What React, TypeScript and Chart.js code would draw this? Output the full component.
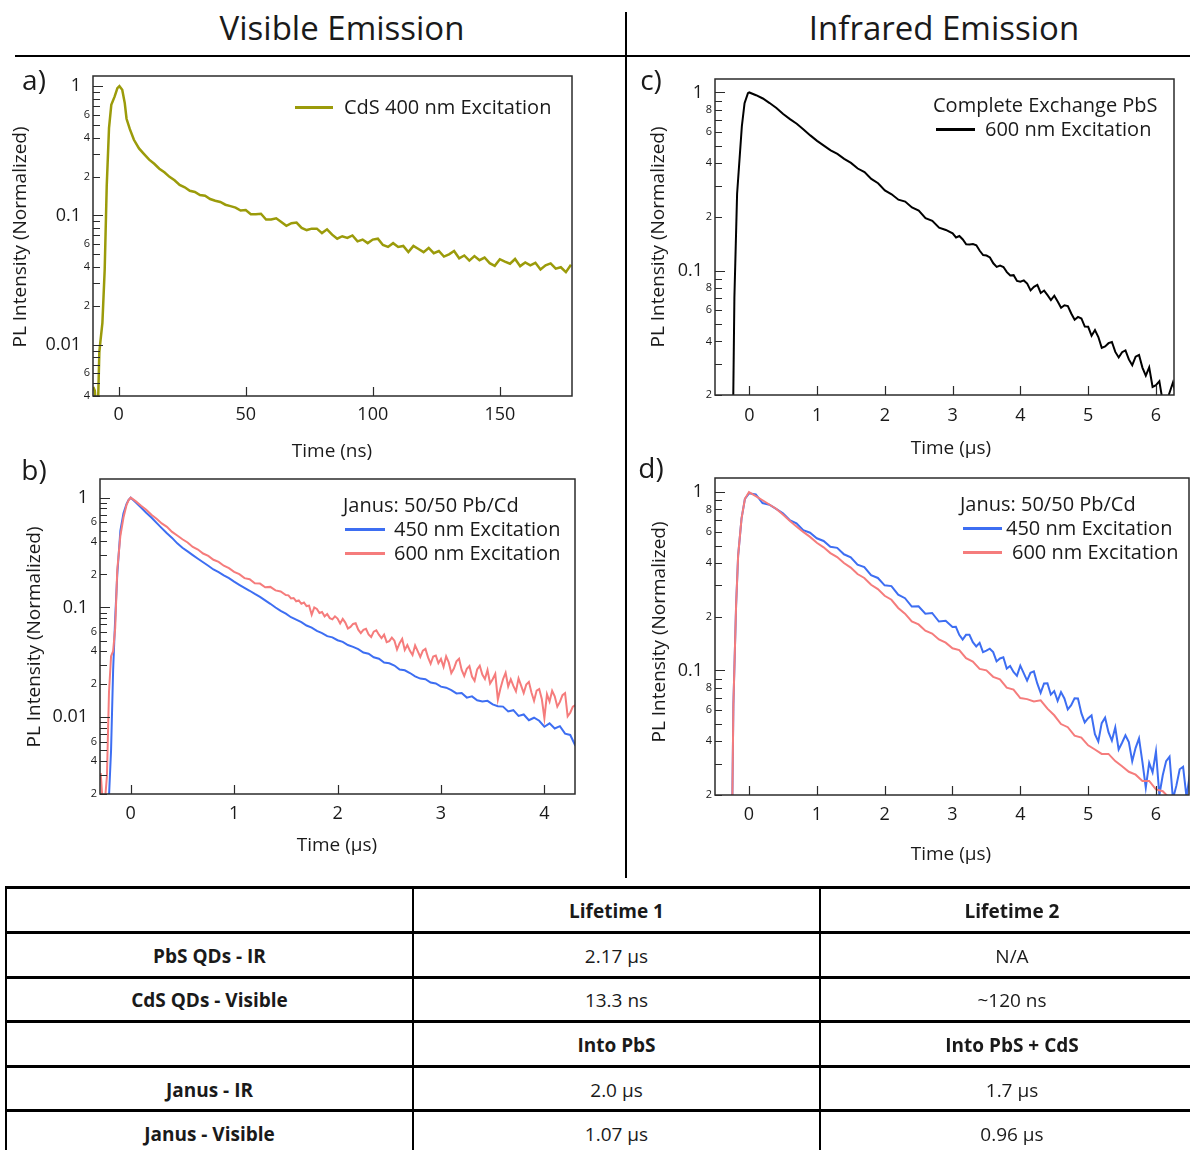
import React, { useEffect, useRef } from "react";
import { Chart, registerables } from "chart.js";

Chart.register(...registerables);

const FONT = "'Open Sans', 'DejaVu Sans', Arial, sans-serif";
const TABLE_FONT = "'Open Sans', 'Liberation Sans', Arial, sans-serif";
const INK = "#1a1a1a";

// ---------- Panel a: CdS visible emission (time in ns) ----------
const timeA = [
  -10, -9.4, -8.8, -8.2, -7.6, -7.2, -6.4, -5.5, -4.7, -3.8, -2.9, -1.6, -0.5, 0.3, 1.4, 2.4, 3.1, 4.4, 6,
  8, 10, 12, 14, 16, 18, 20, 22, 24, 26, 28, 30, 32, 34, 36, 38, 40, 42, 44, 46, 48, 50,
  52, 54, 56, 58, 60, 62, 64, 66, 68, 70, 72, 74, 76, 78, 80, 82, 84, 86, 88, 90,
  92, 94, 96, 98, 100, 102, 104, 106, 108, 110, 112, 114, 116, 118, 120, 122, 124, 126, 128, 130,
  132, 134, 136, 138, 140, 142, 144, 146, 148, 150, 152, 154, 156, 158, 160, 162, 164, 166, 168, 170,
  172, 174, 176, 178,
];
const cdsVisible = [
  0.0047, 0.0044, 0.0031, 0.003, 0.0088, 0.0105, 0.0147, 0.038, 0.168, 0.474, 0.718, 0.83, 0.965, 1.0, 0.94, 0.74, 0.56, 0.465, 0.385,
  0.33, 0.298, 0.27, 0.251, 0.23, 0.216, 0.199, 0.187, 0.172, 0.165, 0.155, 0.152, 0.144, 0.142, 0.134, 0.13, 0.127, 0.121, 0.118, 0.115, 0.109, 0.11,
  0.102, 0.102, 0.103, 0.093, 0.093, 0.095, 0.089, 0.083, 0.087, 0.088, 0.08, 0.077, 0.079, 0.079, 0.073, 0.078, 0.071, 0.066, 0.069, 0.067,
  0.07, 0.063, 0.065, 0.061, 0.065, 0.066, 0.059, 0.057, 0.061, 0.057, 0.058, 0.052, 0.058, 0.055, 0.052, 0.056, 0.051, 0.053, 0.048, 0.05,
  0.053, 0.0466, 0.049, 0.0447, 0.0484, 0.045, 0.0472, 0.0427, 0.0407, 0.0458, 0.0438, 0.0423, 0.046, 0.0405, 0.0433, 0.0411, 0.043, 0.0381, 0.0411, 0.0425,
  0.0387, 0.0397, 0.0364, 0.0415,
];
const xTicksA = [0, 50, 100, 150];
const xLabelsA = ["0", "50", "100", "150"];
const yTicksA = [
  0.004, 0.005, 0.006, 0.007, 0.008, 0.009,
  0.01, 0.02, 0.03, 0.04, 0.05, 0.06, 0.07, 0.08, 0.09,
  0.1, 0.2, 0.3, 0.4, 0.5, 0.6, 0.7, 0.8, 0.9, 1,
];
const yLabelsA = [
  "4", "", "6", "", "", "",
  "0.01", "2", "", "4", "", "6", "", "", "",
  "0.1", "2", "", "4", "", "6", "", "", "", "1",
];

// ---------- Panel b: Janus visible emission (time in µs) ----------
const timeB450 = [
  -0.29, -0.27, -0.25, -0.23, -0.21, -0.19, -0.17, -0.15, -0.13, -0.1, -0.07, -0.04, -0.02,
  0, 0.05, 0.1, 0.15, 0.2, 0.25, 0.3, 0.35, 0.4, 0.45, 0.5, 0.55, 0.6, 0.65, 0.7, 0.75, 0.8, 0.85, 0.9, 0.95,
  1, 1.05, 1.1, 1.15, 1.2, 1.25, 1.3, 1.35, 1.4, 1.45, 1.5, 1.55, 1.6, 1.65, 1.7, 1.75, 1.8, 1.85, 1.9, 1.95,
  2, 2.05, 2.1, 2.15, 2.2, 2.25, 2.3, 2.35, 2.4, 2.45, 2.5, 2.55, 2.6, 2.65, 2.7, 2.75, 2.8, 2.85, 2.9, 2.95,
  3, 3.05, 3.1, 3.15, 3.2, 3.25, 3.3, 3.35, 3.4, 3.45, 3.5, 3.55, 3.6, 3.65, 3.7, 3.75, 3.8, 3.85, 3.9, 3.95,
  4, 4.05, 4.1, 4.15, 4.2, 4.25, 4.3,
];
const janusVis450 = [
  0.0015, 0.0015, 0.0015, 0.0015, 0.0019, 0.005, 0.027, 0.08, 0.2, 0.5, 0.72, 0.88, 0.955,
  1.0, 0.905, 0.815, 0.73, 0.66, 0.59, 0.528, 0.474, 0.43, 0.384, 0.35, 0.324, 0.3, 0.278, 0.258, 0.24, 0.222, 0.21, 0.196, 0.185,
  0.172, 0.161, 0.151, 0.142, 0.133, 0.125, 0.116, 0.108, 0.1, 0.093, 0.088, 0.0815, 0.0775, 0.0735, 0.0685, 0.0655, 0.0612, 0.0585, 0.0548, 0.0534,
  0.0503, 0.0486, 0.0455, 0.0438, 0.0418, 0.0389, 0.0379, 0.0352, 0.0341, 0.0315, 0.031, 0.0296, 0.0272, 0.0268, 0.0253, 0.0236, 0.0225, 0.0222, 0.0207, 0.0203,
  0.019, 0.0186, 0.0177, 0.0165, 0.0166, 0.0151, 0.0155, 0.0143, 0.0139, 0.0141, 0.0131, 0.0126, 0.0125, 0.0113, 0.0116, 0.0103, 0.0106, 0.0094, 0.0099, 0.0093,
  0.0082, 0.0088, 0.0079, 0.0083, 0.0071, 0.0069, 0.0055,
];
const timeB600 = [
  -0.29, -0.27, -0.25, -0.23, -0.21, -0.19, -0.17, -0.15, -0.13, -0.1, -0.07, -0.04, -0.02,
  0, 0.05, 0.1, 0.15, 0.2, 0.25, 0.3, 0.35, 0.4, 0.45, 0.5, 0.55, 0.6, 0.65, 0.7, 0.75, 0.8, 0.85, 0.9, 0.95,
  1, 1.05, 1.1, 1.15, 1.2, 1.25, 1.3, 1.35, 1.4, 1.45,
  1.5, 1.525, 1.55, 1.575, 1.6, 1.625, 1.65, 1.675, 1.7, 1.725, 1.75, 1.775, 1.8, 1.825, 1.85, 1.875, 1.9, 1.925, 1.95, 1.975,
  2, 2.025, 2.05, 2.075, 2.1, 2.125, 2.15, 2.175, 2.2, 2.225, 2.25, 2.275, 2.3, 2.325, 2.35, 2.375, 2.4, 2.425, 2.45, 2.475,
  2.5, 2.525, 2.55, 2.575, 2.6, 2.625, 2.65, 2.675, 2.7, 2.725, 2.75, 2.775, 2.8, 2.825, 2.85, 2.875, 2.9, 2.925, 2.95, 2.975,
  3, 3.025, 3.05, 3.075, 3.1, 3.125, 3.15, 3.175, 3.2, 3.225, 3.25, 3.275, 3.3, 3.325, 3.35, 3.375, 3.4, 3.425, 3.45, 3.475,
  3.5, 3.525, 3.55, 3.575, 3.6, 3.625, 3.65, 3.675, 3.7, 3.725, 3.75, 3.775, 3.8, 3.825, 3.85, 3.875, 3.9, 3.925, 3.95, 3.975,
  4, 4.025, 4.05, 4.075, 4.1, 4.125, 4.15, 4.175, 4.2, 4.225, 4.25, 4.275, 4.3,
];
const janusVis600 = [
  0.0031, 0.0016, 0.0017, 0.0029, 0.017, 0.036, 0.04, 0.065, 0.22, 0.45, 0.66, 0.86, 0.95,
  1.0, 0.925, 0.845, 0.776, 0.7, 0.643, 0.583, 0.542, 0.488, 0.452, 0.418, 0.391, 0.356, 0.337, 0.31, 0.295, 0.272, 0.26, 0.24, 0.228,
  0.211, 0.201, 0.185, 0.181, 0.166, 0.165, 0.153, 0.154, 0.143, 0.14,
  0.13, 0.129, 0.121, 0.122, 0.114, 0.116, 0.108, 0.111, 0.103, 0.104, 0.086, 0.1, 0.097, 0.089, 0.091, 0.083, 0.087, 0.08, 0.078, 0.083,
  0.0792, 0.0716, 0.0786, 0.0729, 0.0644, 0.0666, 0.0708, 0.0718, 0.0628, 0.0585, 0.0626, 0.0639, 0.0568, 0.0538, 0.0602, 0.0619, 0.0565, 0.0527, 0.0566, 0.0483,
  0.0493, 0.0532, 0.0498, 0.0414, 0.0473, 0.0517, 0.0411, 0.0455, 0.0403, 0.0369, 0.0452, 0.0401, 0.0354, 0.0404, 0.0419, 0.0351, 0.0307, 0.0358, 0.0365, 0.0311,
  0.034, 0.0288, 0.0359, 0.0316, 0.0253, 0.0278, 0.0323, 0.0341, 0.027, 0.0238, 0.0277, 0.0293, 0.0235, 0.0215, 0.0273, 0.0295, 0.0245, 0.0223, 0.0269, 0.0203,
  0.0222, 0.0248, 0.0145, 0.0183, 0.0222, 0.0254, 0.0191, 0.0222, 0.0193, 0.0172, 0.0226, 0.0194, 0.0166, 0.0199, 0.021, 0.0168, 0.0141, 0.0175, 0.0181, 0.0147,
  0.0098, 0.0162, 0.0139, 0.0174, 0.0155, 0.0125, 0.0138, 0.0159, 0.0166, 0.0102, 0.011, 0.0125, 0.0129,
];
const xTicksB = [0, 1, 2, 3, 4];
const xLabelsB = ["0", "1", "2", "3", "4"];
const yTicksB = [
  0.002, 0.003, 0.004, 0.005, 0.006, 0.007, 0.008, 0.009,
  0.01, 0.02, 0.03, 0.04, 0.05, 0.06, 0.07, 0.08, 0.09,
  0.1, 0.2, 0.3, 0.4, 0.5, 0.6, 0.7, 0.8, 0.9, 1,
];
const yLabelsB = [
  "2", "", "4", "", "6", "", "", "",
  "0.01", "2", "", "4", "", "6", "", "", "",
  "0.1", "2", "", "4", "", "6", "", "", "", "1",
];

// ---------- Panel c: complete exchange PbS, IR emission (µs) ----------
const timeC = [
  -0.26, -0.24, -0.22, -0.18, -0.11, -0.07, -0.02,
  0, 0.1, 0.2, 0.3, 0.4, 0.5, 0.6, 0.7, 0.8, 0.9, 1, 1.1, 1.2, 1.3, 1.4, 1.5, 1.6, 1.7, 1.8, 1.9,
  2, 2.1, 2.2, 2.3, 2.4, 2.5, 2.6, 2.7, 2.8, 2.9,
  3, 3.05, 3.1, 3.15, 3.2, 3.25, 3.3, 3.35, 3.4, 3.45, 3.5, 3.55, 3.6, 3.65, 3.7, 3.75, 3.8, 3.85, 3.9, 3.95,
  4, 4.05, 4.1, 4.15, 4.2, 4.25, 4.3, 4.35, 4.4, 4.45, 4.5, 4.55, 4.6, 4.65, 4.7, 4.75, 4.8, 4.85, 4.9, 4.95,
  5, 5.05, 5.1, 5.15, 5.2, 5.25, 5.3, 5.35, 5.4, 5.45, 5.5, 5.55, 5.6, 5.65, 5.7, 5.75, 5.8, 5.85, 5.9, 5.95,
  6, 6.05, 6.1, 6.15, 6.2, 6.25, 6.3,
];
const pbsIr600 = [
  0.008, 0.015, 0.07, 0.27, 0.645, 0.87, 0.99,
  1.0, 0.965, 0.925, 0.872, 0.818, 0.757, 0.708, 0.667, 0.62, 0.574, 0.535, 0.503, 0.473, 0.452, 0.424, 0.402, 0.374, 0.357, 0.327, 0.309,
  0.282, 0.268, 0.25, 0.244, 0.226, 0.217, 0.197, 0.19, 0.174, 0.169,
  0.1616, 0.1533, 0.1563, 0.1495, 0.1405, 0.1401, 0.1409, 0.1387, 0.1291, 0.1221, 0.1214, 0.1185, 0.1098, 0.1048, 0.1065, 0.1047, 0.098, 0.0937, 0.0942, 0.0874,
  0.0865, 0.088, 0.0844, 0.0774, 0.081, 0.0831, 0.0748, 0.0772, 0.0727, 0.0683, 0.0722, 0.0669, 0.0618, 0.0638, 0.0632, 0.0574, 0.0529, 0.0549, 0.0538, 0.0484,
  0.0483, 0.043, 0.0463, 0.0423, 0.0368, 0.0375, 0.0391, 0.0397, 0.0349, 0.0325, 0.0348, 0.0356, 0.0317, 0.0294, 0.0328, 0.0336, 0.0285, 0.0257, 0.0286, 0.0222,
  0.0227, 0.0239, 0.0183, 0.0181, 0.0206, 0.0235, 0.0196,
];
const xTicksC = [0, 1, 2, 3, 4, 5, 6];
const xLabelsC = ["0", "1", "2", "3", "4", "5", "6"];
const yTicksIR = [
  0.02, 0.03, 0.04, 0.05, 0.06, 0.07, 0.08, 0.09,
  0.1, 0.2, 0.3, 0.4, 0.5, 0.6, 0.7, 0.8, 0.9, 1,
];
const yLabelsIR = [
  "2", "", "4", "", "6", "", "8", "",
  "0.1", "2", "", "4", "", "6", "", "8", "", "1",
];

// ---------- Panel d: Janus IR emission (µs) ----------
const timeD450 = [
  -0.27, -0.25, -0.23, -0.19, -0.16, -0.11, -0.06,
  0, 0.1, 0.2, 0.3, 0.4, 0.5, 0.6, 0.7, 0.8, 0.9, 1, 1.1, 1.2, 1.3, 1.4, 1.5, 1.6, 1.7, 1.8, 1.9,
  2, 2.1, 2.2, 2.3, 2.4, 2.5, 2.6, 2.7, 2.8, 2.9,
  3, 3.05, 3.1, 3.15, 3.2, 3.25, 3.3, 3.35, 3.4, 3.45, 3.5, 3.55, 3.6, 3.65, 3.7, 3.75, 3.8, 3.85, 3.9, 3.95,
  4, 4.05, 4.1, 4.15, 4.2, 4.25, 4.3, 4.35, 4.4, 4.45, 4.5, 4.55, 4.6, 4.65, 4.7, 4.75, 4.8, 4.85, 4.9, 4.95,
  5, 5.05, 5.1, 5.15, 5.2, 5.25, 5.3, 5.35, 5.4, 5.45, 5.5, 5.55, 5.6, 5.65, 5.7, 5.75, 5.8, 5.85, 5.9, 5.95,
  6, 6.05, 6.1, 6.15, 6.2, 6.25, 6.3, 6.35, 6.4, 6.45, 6.5,
];
const janusIr450 = [
  0.008, 0.013, 0.064, 0.231, 0.44, 0.71, 0.917,
  0.985, 0.97, 0.868, 0.85, 0.806, 0.761, 0.697, 0.668, 0.611, 0.592, 0.551, 0.532, 0.494, 0.487, 0.448, 0.431, 0.392, 0.38, 0.342, 0.33,
  0.3, 0.297, 0.266, 0.254, 0.228, 0.229, 0.208, 0.21, 0.188, 0.19,
  0.1752, 0.1754, 0.1582, 0.1488, 0.1583, 0.1585, 0.144, 0.1362, 0.1428, 0.1267, 0.1291, 0.1323, 0.1266, 0.1123, 0.1166, 0.1185, 0.1024, 0.1059, 0.0979, 0.0932,
  0.1063, 0.0966, 0.0877, 0.0969, 0.0987, 0.0845, 0.0748, 0.0844, 0.0847, 0.0731, 0.0766, 0.0675, 0.0756, 0.0696, 0.0604, 0.0638, 0.0697, 0.0696, 0.0576, 0.0511,
  0.054, 0.0559, 0.0439, 0.0399, 0.0506, 0.0543, 0.045, 0.0404, 0.0478, 0.036, 0.0393, 0.0432, 0.0396, 0.0309, 0.0368, 0.0416, 0.0307, 0.022, 0.0303, 0.0268,
  0.0351, 0.02, 0.0258, 0.031, 0.0328, 0.019, 0.0225, 0.0279, 0.0288, 0.0195, 0.0261,
];
const timeD600 = [
  -0.27, -0.25, -0.23, -0.19, -0.16, -0.11, -0.06,
  0, 0.1, 0.2, 0.3, 0.4, 0.5, 0.6, 0.7, 0.8, 0.9, 1, 1.1, 1.2, 1.3, 1.4, 1.5, 1.6, 1.7, 1.8, 1.9,
  2, 2.1, 2.2, 2.3, 2.4, 2.5, 2.6, 2.7, 2.8, 2.9, 3, 3.1, 3.2, 3.3, 3.4, 3.5, 3.6, 3.7, 3.8, 3.9,
  4, 4.1, 4.2, 4.3, 4.4, 4.5, 4.6, 4.7, 4.8, 4.9, 5, 5.1, 5.2, 5.3, 5.4, 5.5, 5.6, 5.7, 5.8, 5.9,
  6, 6.1, 6.2, 6.3, 6.4, 6.5,
];
const janusIr600 = [
  0.008, 0.013, 0.064, 0.231, 0.44, 0.71, 0.917,
  1.0, 0.95, 0.9, 0.852, 0.807, 0.748, 0.69, 0.642, 0.598, 0.561, 0.52, 0.49, 0.455, 0.432, 0.4, 0.377, 0.347, 0.33, 0.302, 0.286,
  0.262, 0.249, 0.224, 0.208, 0.188, 0.181, 0.167, 0.161, 0.149, 0.143, 0.133, 0.13, 0.117, 0.112, 0.102, 0.1, 0.092, 0.089, 0.08, 0.078,
  0.07, 0.069, 0.067, 0.068, 0.061, 0.056, 0.05, 0.048, 0.043, 0.042, 0.038, 0.036, 0.034, 0.034, 0.031, 0.029, 0.027, 0.026, 0.024, 0.024,
  0.0215, 0.021, 0.0192, 0.0185, 0.018, 0.017,
];

// ---------- Table ----------
const tableRowLabels = ["", "PbS QDs - IR", "CdS QDs - Visible", "", "Janus - IR", "Janus - Visible"];
const tableCol1 = ["Lifetime 1", "2.17 µs", "13.3 ns", "Into PbS", "2.0 µs", "1.07 µs"];
const tableCol2 = ["Lifetime 2", "N/A", "~120 ns", "Into PbS + CdS", "1.7 µs", "0.96 µs"];
const tableHeaderRows = [0, 3];

const OLIVE = "#9b9b0a";
const BLUE = "#3d6ef2";
const RED = "#f57c7c";

function isMajor(v: number) {
  const l = Math.log10(v);
  return Math.abs(l - Math.round(l)) < 1e-6;
}

type Series = { xs: number[]; ys: number[]; color: string; width: number; order: number };
type Box = { left: number; top: number; width: number; height: number };
type Area = { left: number; top: number; right: number; bottom: number };

type PanelProps = {
  box: Box;
  area: Area;
  xMin: number;
  xMax: number;
  xTicks: number[];
  xLabels: string[];
  xPad: number;
  yMin: number;
  yMax: number;
  yTicks: number[];
  yLabels: string[];
  series: Series[];
};

function DecayPanel(p: PanelProps) {
  const ref = useRef<HTMLCanvasElement | null>(null);
  useEffect(() => {
    const canvas = ref.current;
    if (!canvas) return;
    const padTop = p.area.top - p.box.top;
    const padRight = p.box.left + p.box.width - p.area.right;
    const yW = p.area.left - p.box.left;
    const xH = p.box.top + p.box.height - p.area.bottom;
    const framePlugin = {
      id: "frame",
      afterDatasetsDraw(chart: any) {
        const { ctx, chartArea: a } = chart;
        const xs = chart.scales.x;
        const ys = chart.scales.y;
        ctx.save();
        ctx.strokeStyle = "#2b2b2b";
        ctx.lineWidth = 1.2;
        ctx.beginPath();
        ys.ticks.forEach((t: any) => {
          const py = Math.round(ys.getPixelForValue(t.value)) + 0.5;
          if (py < a.top - 1 || py > a.bottom + 1) return;
          ctx.moveTo(a.left, py);
          ctx.lineTo(a.left + (isMajor(t.value) ? 10 : 7), py);
        });
        xs.ticks.forEach((t: any) => {
          const px = Math.round(xs.getPixelForValue(t.value)) + 0.5;
          ctx.moveTo(px, a.bottom);
          ctx.lineTo(px, a.bottom - 9);
        });
        ctx.stroke();
        ctx.lineWidth = 1.5;
        ctx.strokeRect(a.left, a.top, a.right - a.left, a.bottom - a.top);
        ctx.restore();
      },
    };
    const chart = new Chart(canvas, {
      type: "line",
      data: {
        datasets: p.series.map((s) => ({
          data: s.xs.map((x, i) => ({ x, y: s.ys[i] })),
          borderColor: s.color,
          borderWidth: s.width,
          pointRadius: 0,
          tension: 0,
          fill: false,
          order: s.order,
        })),
      },
      options: {
        animation: false,
        responsive: false,
        devicePixelRatio: 1,
        events: [],
        layout: { padding: { top: padTop, right: padRight, left: 0, bottom: 0 } },
        plugins: { legend: { display: false }, tooltip: { enabled: false }, title: { display: false } },
        scales: {
          x: {
            type: "linear",
            min: p.xMin,
            max: p.xMax,
            grid: { display: false, drawTicks: false },
            border: { display: false },
            ticks: {
              autoSkip: false,
              maxRotation: 0,
              padding: p.xPad,
              color: INK,
              font: { family: FONT, size: 18 },
              callback: (_v: any, i: number) => p.xLabels[i],
            },
            afterBuildTicks: (s: any) => {
              s.ticks = p.xTicks.map((v) => ({ value: v }));
            },
            afterFit: (s: any) => {
              s.height = xH;
            },
          },
          y: {
            type: "logarithmic",
            min: p.yMin,
            max: p.yMax,
            grid: { display: false, drawTicks: false },
            border: { display: false },
            ticks: {
              autoSkip: false,
              padding: 3,
              color: INK,
              font: (ctx: any) => ({
                family: FONT,
                size: ctx.index !== undefined && isMajor(p.yTicks[ctx.index]) ? 18 : 11,
              }),
              callback: (_v: any, i: number) => {
                const lab = p.yLabels[i];
                return isMajor(p.yTicks[i]) ? lab + "\u2002" : lab;
              },
            },
            afterBuildTicks: (s: any) => {
              s.ticks = p.yTicks.map((v) => ({ value: v }));
            },
            afterFit: (s: any) => {
              s.width = yW;
            },
          },
        },
      } as any,
      plugins: [framePlugin],
    });
    return () => chart.destroy();
  }, []);
  return (
    <canvas
      ref={ref}
      width={p.box.width}
      height={p.box.height}
      style={{ position: "absolute", left: p.box.left, top: p.box.top, width: p.box.width, height: p.box.height }}
    />
  );
}

function Txt(props: {
  x: number;
  y: number;
  size: number;
  children: React.ReactNode;
  align?: "center" | "left";
  weight?: number;
  family?: string;
}) {
  const { x, y, size, align = "center", weight = 400, family = FONT } = props;
  const tx = align === "center" ? "-50%" : "0";
  return (
    <div
      style={{
        position: "absolute",
        left: x,
        top: y,
        transform: `translate(${tx}, -50%)`,
        fontFamily: family,
        fontSize: size,
        fontWeight: weight,
        lineHeight: 1.2,
        whiteSpace: "nowrap",
        color: INK,
      }}
    >
      {props.children}
    </div>
  );
}

function VTitle({ x, y, text }: { x: number; y: number; text: string }) {
  return (
    <div
      style={{
        position: "absolute",
        left: x,
        top: y,
        transform: "translate(-50%, -50%) rotate(-90deg)",
        fontFamily: FONT,
        fontSize: 19,
        lineHeight: 1.2,
        whiteSpace: "nowrap",
        color: INK,
      }}
    >
      {text}
    </div>
  );
}

function LegendLine({ x1, x2, y, color }: { x1: number; x2: number; y: number; color: string }) {
  return (
    <div style={{ position: "absolute", left: x1, top: y - 1, width: x2 - x1, height: 2.5, background: color }} />
  );
}

function Rule({ x, y, w, h }: { x: number; y: number; w: number; h: number }) {
  return <div style={{ position: "absolute", left: x, top: y, width: w, height: h, background: "#000" }} />;
}

export default function App() {
  const rowLines = [886, 931, 976, 1020, 1065, 1109];
  const rowCenters = [911, 956, 1000, 1045, 1090, 1134];
  return (
    <div
      style={{
        position: "absolute",
        left: 0,
        top: 0,
        width: 1190,
        height: 1150,
        background: "#fff",
        overflow: "hidden",
        fontFamily: FONT,
      }}
    >
      {/* section titles and dividers */}
      <Txt x={342} y={28} size={33}>Visible Emission</Txt>
      <Txt x={944} y={28} size={33}>Infrared Emission</Txt>
      <Rule x={15} y={55} w={1175} h={2} />
      <Rule x={625} y={12} w={2} h={866} />

      {/* panel a */}
      <DecayPanel
        box={{ left: 0, top: 50, width: 612, height: 410 }}
        area={{ left: 93, top: 76, right: 572, bottom: 396 }}
        xMin={-10.1}
        xMax={178.4}
        xTicks={xTicksA}
        xLabels={xLabelsA}
        xPad={8}
        yMin={0.004}
        yMax={1.2}
        yTicks={yTicksA}
        yLabels={yLabelsA}
        series={[{ xs: timeA, ys: cdsVisible, color: OLIVE, width: 2.5, order: 0 }]}
      />
      <Txt x={34} y={80} size={28}>a)</Txt>
      <VTitle x={19} y={237} text="PL Intensity (Normalized)" />
      <Txt x={332} y={450} size={19}>Time (ns)</Txt>
      <LegendLine x1={295} x2={333} y={107} color={OLIVE} />
      <Txt x={344} y={107} size={20} align="left">CdS 400 nm Excitation</Txt>

      {/* panel b */}
      <DecayPanel
        box={{ left: 0, top: 460, width: 612, height: 420 }}
        area={{ left: 100, top: 479, right: 575, bottom: 794 }}
        xMin={-0.297}
        xMax={4.296}
        xTicks={xTicksB}
        xLabels={xLabelsB}
        xPad={9}
        yMin={0.002}
        yMax={1.48}
        yTicks={yTicksB}
        yLabels={yLabelsB}
        series={[
          { xs: timeB600, ys: janusVis600, color: RED, width: 2, order: 0 },
          { xs: timeB450, ys: janusVis450, color: BLUE, width: 2, order: 1 },
        ]}
      />
      <Txt x={34} y={470} size={28}>b)</Txt>
      <VTitle x={33} y={637} text="PL Intensity (Normalized)" />
      <Txt x={337} y={844} size={19}>Time (µs)</Txt>
      <Txt x={343} y={505} size={20} align="left">Janus: 50/50 Pb/Cd</Txt>
      <LegendLine x1={345} x2={385} y={529} color={BLUE} />
      <Txt x={394} y={529} size={20} align="left">450 nm Excitation</Txt>
      <LegendLine x1={345} x2={385} y={553} color={RED} />
      <Txt x={394} y={553} size={20} align="left">600 nm Excitation</Txt>

      {/* panel c */}
      <DecayPanel
        box={{ left: 630, top: 50, width: 560, height: 410 }}
        area={{ left: 715, top: 79, right: 1174, bottom: 395 }}
        xMin={-0.506}
        xMax={6.266}
        xTicks={xTicksC}
        xLabels={xLabelsC}
        xPad={10}
        yMin={0.02}
        yMax={1.19}
        yTicks={yTicksIR}
        yLabels={yLabelsIR}
        series={[{ xs: timeC, ys: pbsIr600, color: "#000000", width: 2, order: 0 }]}
      />
      <Txt x={651} y={80} size={28}>c)</Txt>
      <VTitle x={657} y={237} text="PL Intensity (Normalized)" />
      <Txt x={951} y={447} size={19}>Time (µs)</Txt>
      <Txt x={933} y={105} size={20} align="left">Complete Exchange PbS</Txt>
      <LegendLine x1={936} x2={975} y={129} color="#000" />
      <Txt x={985} y={129} size={20} align="left">600 nm Excitation</Txt>

      {/* panel d */}
      <DecayPanel
        box={{ left: 630, top: 460, width: 560, height: 420 }}
        area={{ left: 715, top: 478, right: 1189, bottom: 795 }}
        xMin={-0.501}
        xMax={6.487}
        xTicks={xTicksC}
        xLabels={xLabelsC}
        xPad={9}
        yMin={0.02}
        yMax={1.2}
        yTicks={yTicksIR}
        yLabels={yLabelsIR}
        series={[
          { xs: timeD600, ys: janusIr600, color: RED, width: 2, order: 0 },
          { xs: timeD450, ys: janusIr450, color: BLUE, width: 2, order: 1 },
        ]}
      />
      <Txt x={651} y={468} size={28}>d)</Txt>
      <VTitle x={658} y={632} text="PL Intensity (Normalized)" />
      <Txt x={951} y={853} size={19}>Time (µs)</Txt>
      <Txt x={960} y={504} size={20} align="left">Janus: 50/50 Pb/Cd</Txt>
      <LegendLine x1={963} x2={1002} y={528} color={BLUE} />
      <Txt x={1006} y={528} size={20} align="left">450 nm Excitation</Txt>
      <LegendLine x1={963} x2={1002} y={552} color={RED} />
      <Txt x={1012} y={552} size={20} align="left">600 nm Excitation</Txt>

      {/* table */}
      {rowLines.map((y, i) => (
        <Rule key={"h" + i} x={6} y={y} w={1184} h={2.5} />
      ))}
      <Rule x={5} y={886} w={2} h={264} />
      <Rule x={412} y={886} w={2} h={264} />
      <Rule x={819} y={886} w={2} h={264} />
      {rowCenters.map((y, i) => (
        <React.Fragment key={"r" + i}>
          {tableRowLabels[i] ? (
            <Txt x={209.5} y={y} size={19} weight={700} family={TABLE_FONT}>{tableRowLabels[i]}</Txt>
          ) : null}
          <Txt x={616.5} y={y} size={19} weight={tableHeaderRows.includes(i) ? 700 : 400} family={TABLE_FONT}>
            {tableCol1[i]}
          </Txt>
          <Txt x={1012} y={y} size={19} weight={tableHeaderRows.includes(i) ? 700 : 400} family={TABLE_FONT}>
            {tableCol2[i]}
          </Txt>
        </React.Fragment>
      ))}
    </div>
  );
}
